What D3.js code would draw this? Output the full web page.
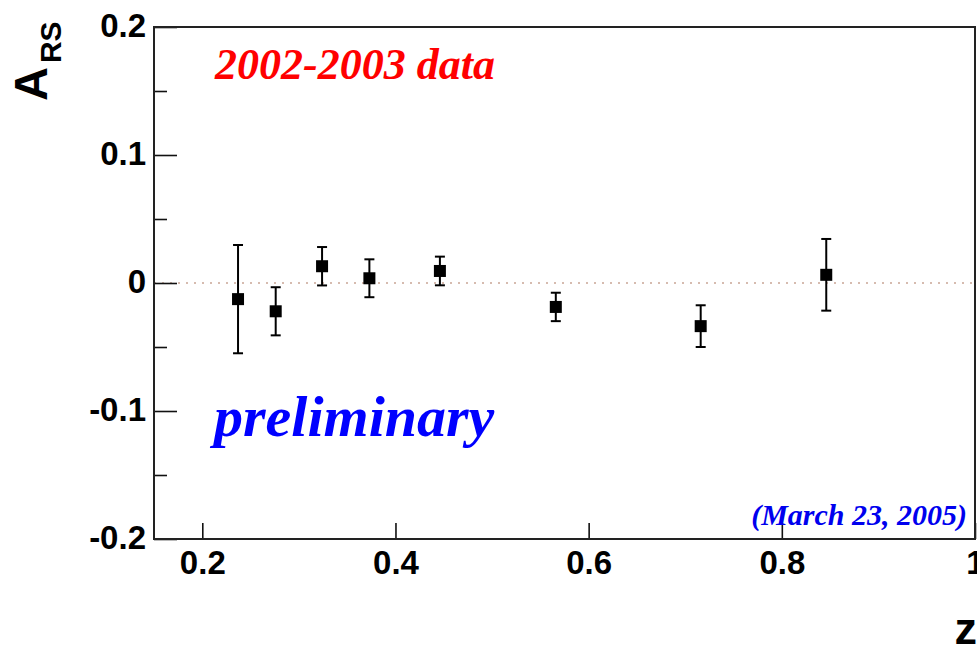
<!DOCTYPE html>
<html>
<head>
<meta charset="utf-8">
<script src="https://cdn.jsdelivr.net/npm/d3@7"></script>
<style>
  body { margin: 0; background: #fff; }
  svg { display: block; }
</style>
</head>
<body>
<svg class="chart"></svg>
<script>
// z bins, asymmetry and stat errors
var zValues   = [0.237, 0.276, 0.324, 0.373, 0.446, 0.566, 0.716, 0.846];
var asymValues = [-0.0126, -0.0221, 0.0131, 0.0037, 0.0094, -0.0187, -0.0337, 0.0064];
var errValues  = [0.0423, 0.0188, 0.0150, 0.0148, 0.0112, 0.0111, 0.0163, 0.0280];

var xTicks = [0.2, 0.4, 0.6, 0.8, 1.0];
var xTickLabels = ["0.2", "0.4", "0.6", "0.8", "1"];
var yTicks = [-0.2, -0.1, 0, 0.1, 0.2];
var yTickLabels = ["-0.2", "-0.1", "0", "0.1", "0.2"];
var yMinorTicks = [-0.15, -0.05, 0.05, 0.15];

function show() {
    'use strict';
    var W = 977, H = 647;
    var margin = {top: 27, right: 2, bottom: 108, left: 154},
        width = W - margin.left - margin.right,
        height = H - margin.top - margin.bottom;

    var svg = d3.select(".chart").attr("width", W).attr("height", H);
    var g = svg.append("g")
        .attr("transform", "translate(" + margin.left + "," + margin.top + ")");

    var x = d3.scaleLinear().domain([0.15, 1.0]).range([0, width]);
    var y = d3.scaleLinear().domain([-0.2, 0.2]).range([height, 0]);

    var data = zValues.map(function(z, i) {
        return {z: z, a: asymValues[i], e: errValues[i]};
    });

    // zero line
    g.append("line")
        .attr("x1", 0).attr("x2", width)
        .attr("y1", y(0)).attr("y2", y(0))
        .attr("stroke", "#c9a595")
        .attr("stroke-width", 1.6)
        .attr("stroke-dasharray", "2,6");

    // axes (ticks point inward, ROOT style)
    var yAxis = g.append("g").call(d3.axisLeft(y)
        .tickValues(yTicks)
        .tickSize(-23).tickPadding(8)
        .tickFormat(function(d, i) { return yTickLabels[i]; }));
    g.append("g").call(d3.axisLeft(y)
        .tickValues(yMinorTicks)
        .tickSize(-13).tickFormat(""));
    g.append("g")
        .attr("transform", "translate(0," + height + ")")
        .call(d3.axisBottom(x)
            .tickValues(xTicks)
            .tickSize(-16).tickPadding(12)
            .tickFormat(function(d, i) { return xTickLabels[i]; }));

    g.selectAll(".domain").remove();
    g.selectAll(".tick line").attr("stroke", "#111").attr("stroke-width", 1.6);
    g.selectAll(".tick text")
        .attr("fill", "#000")
        .style("font-family", "'Liberation Sans', Arial, sans-serif")
        .style("font-weight", "bold")
        .style("font-size", "33px");
    yAxis.selectAll(".tick text").attr("dy", "0.28em");

    // frame
    g.append("rect")
        .attr("width", width).attr("height", height)
        .attr("fill", "none")
        .attr("stroke", "#222")
        .attr("stroke-width", 2);

    // error bars
    var pts = g.append("g").selectAll("g").data(data).enter().append("g");
    pts.append("line")
        .attr("x1", function(d) { return x(d.z); })
        .attr("x2", function(d) { return x(d.z); })
        .attr("y1", function(d) { return y(d.a + d.e); })
        .attr("y2", function(d) { return y(d.a - d.e); })
        .attr("stroke", "#000").attr("stroke-width", 2);
    [1, -1].forEach(function(s) {
        pts.append("line")
            .attr("x1", function(d) { return x(d.z) - 5; })
            .attr("x2", function(d) { return x(d.z) + 5; })
            .attr("y1", function(d) { return y(d.a + s * d.e); })
            .attr("y2", function(d) { return y(d.a + s * d.e); })
            .attr("stroke", "#000").attr("stroke-width", 2);
    });
    pts.append("rect")
        .attr("x", function(d) { return x(d.z) - 6; })
        .attr("y", function(d) { return y(d.a) - 6; })
        .attr("width", 12).attr("height", 12)
        .attr("fill", "#000");

    // annotations
    var serif = "'Liberation Serif', 'Times New Roman', serif";
    svg.append("text")
        .attr("x", 215).attr("y", 79)
        .attr("fill", "#ff0000")
        .style("font-family", serif).style("font-weight", "bold").style("font-style", "italic")
        .style("font-size", "44px")
        .text("2002-2003 data");
    svg.append("text")
        .attr("x", 214).attr("y", 436)
        .attr("fill", "#0000ff")
        .style("font-family", serif).style("font-weight", "bold").style("font-style", "italic")
        .style("font-size", "58px")
        .text("preliminary");
    svg.append("text")
        .attr("x", 967).attr("y", 525)
        .attr("text-anchor", "end")
        .attr("fill", "#0000ee")
        .style("font-family", serif).style("font-weight", "bold").style("font-style", "italic")
        .style("font-size", "30px")
        .text("(March 23, 2005)");

    // axis titles
    var sans = "'Liberation Sans', Arial, sans-serif";
    svg.append("text")
        .attr("x", 977).attr("y", 644)
        .attr("text-anchor", "end")
        .style("font-family", sans).style("font-weight", "bold")
        .style("font-size", "45px")
        .text("z");
    var yt = svg.append("text")
        .attr("transform", "translate(47,101) rotate(-90)")
        .style("font-family", sans).style("font-weight", "bold")
        .style("font-size", "47px");
    yt.append("tspan").text("A");
    yt.append("tspan").attr("dy", 14).attr("dx", 4)
        .style("font-size", "30px")
        .text("RS");
}
show();
</script>
</body>
</html>
